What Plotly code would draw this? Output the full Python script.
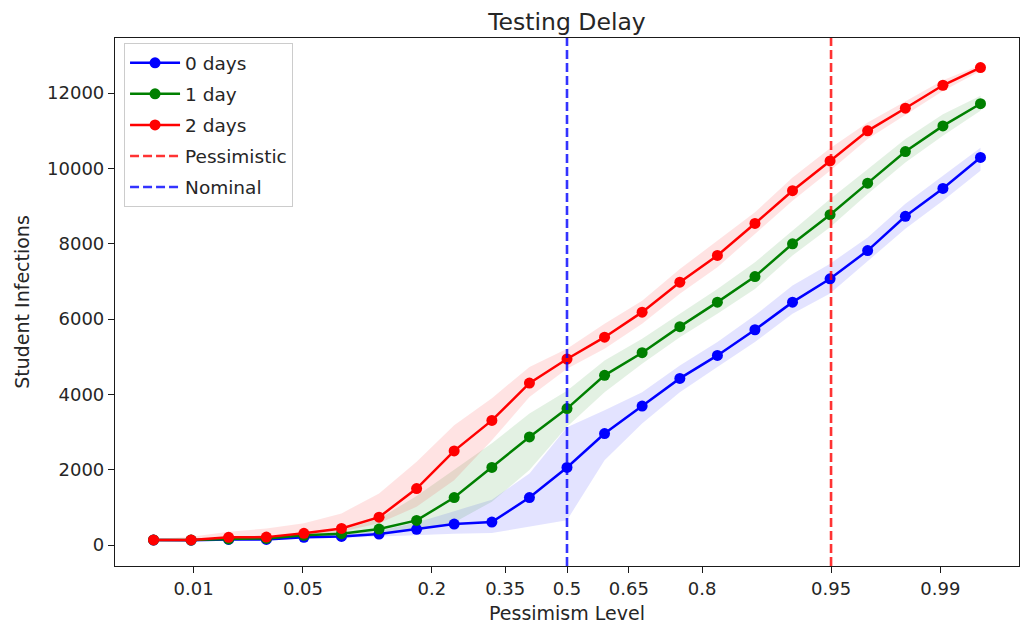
import plotly.graph_objects as go

# x positions: pessimism levels expressed on a normal-quantile (probit) scale
z_levels = [-2.576, -2.342, -2.108, -1.873, -1.639, -1.405, -1.171, -0.937, -0.703, -0.468,
            -0.234, 0.0, 0.234, 0.468, 0.703, 0.937, 1.171, 1.405, 1.639, 1.873, 2.108, 2.342, 2.576]

days0 = [133, 130, 150, 150, 204, 229, 292, 416, 557, 610, 1260, 2060, 2960, 3690, 4425,
         5035, 5717, 6450, 7070, 7820, 8730, 9470, 10292]
days0_lo = [110, 110, 125, 125, 170, 185, 220, 260, 300, 320, 485, 660, 2250, 3230, 4060,
            4730, 5390, 6140, 6680, 7550, 8400, 9140, 9940]
days0_hi = [155, 155, 175, 180, 240, 280, 380, 600, 900, 1200, 1900, 3130, 3580, 4060, 4770,
            5390, 6100, 6890, 7470, 8170, 9060, 9800, 10550]

days1 = [135, 133, 160, 175, 257, 300, 424, 654, 1260, 2060, 2870, 3623, 4506, 5107, 5800,
         6450, 7130, 8000, 8773, 9610, 10450, 11130, 11720]
days1_lo = [115, 115, 135, 150, 215, 250, 330, 420, 600, 1150, 1990, 3140, 4060, 4815, 5520,
            6140, 6800, 7690, 8440, 9320, 10160, 10870, 11530]
days1_hi = [160, 160, 200, 220, 320, 400, 700, 1300, 2000, 2700, 3490, 4100, 4900, 5480, 6140,
            6800, 7510, 8350, 9190, 9980, 10780, 11440, 11930]

days2 = [135, 135, 204, 210, 310, 440, 740, 1500, 2500, 3310, 4300, 4940, 5520, 6185, 6980,
         7690, 8540, 9410, 10200, 11000, 11600, 12210, 12680]
days2_lo = [115, 115, 170, 175, 230, 350, 575, 1015, 1720, 2780, 3930, 4680, 5210, 5875, 6670,
            7375, 8260, 9145, 9940, 10780, 11420, 12060, 12590]
days2_hi = [160, 220, 350, 440, 575, 840, 1370, 2210, 3180, 3900, 4730, 5210, 5875, 6490, 7330,
            8080, 8835, 9760, 10540, 11220, 11790, 12340, 12750]

series_names = ["0 days", "1 day", "2 days"]
series_colors = ["#0000ff", "#008000", "#ff0000"]
fill_colors = ["rgba(0,0,255,0.11)", "rgba(0,128,0,0.11)", "rgba(255,0,0,0.11)"]

tick_labels = ["0.01", "0.05", "0.2", "0.35", "0.5", "0.65", "0.8", "0.95", "0.99"]
tick_z = [-2.326, -1.645, -0.842, -0.385, 0.0, 0.385, 0.842, 1.645, 2.326]

nominal_z = 0.0        # pessimism 0.5
pessimistic_z = 1.645  # pessimism 0.95

y_ticks = [0, 2000, 4000, 6000, 8000, 10000, 12000]
y_tick_labels = ["0", "2000", "4000", "6000", "8000", "10000", "12000"]
y_range = [-557, 13465]
x_range = [-2.816, 2.816]

FONT = "DejaVu Sans"
TXT = "#262626"
AX = "#1a1a1a"

fig = go.Figure()

data = [(days0, days0_lo, days0_hi), (days1, days1_lo, days1_hi), (days2, days2_lo, days2_hi)]

for (mid, lo, hi), fc in zip(data, fill_colors):
    fig.add_trace(go.Scatter(
        x=z_levels + z_levels[::-1], y=hi + lo[::-1],
        fill="toself", fillcolor=fc, line=dict(width=0), mode="lines",
        hoverinfo="skip", showlegend=False))

for i, ((mid, lo, hi), name, col) in enumerate(zip(data, series_names, series_colors)):
    fig.add_trace(go.Scatter(
        x=z_levels, y=mid, name=name, mode="lines+markers",
        line=dict(color=col, width=2.5),
        marker=dict(color=col, size=11),
        legendgroup=name, legendrank=i + 1))

fig.add_shape(type="line", x0=pessimistic_z, x1=pessimistic_z, y0=0, y1=1,
              xref="x", yref="paper",
              line=dict(color="rgba(255,0,0,0.8)", width=2.6, dash="9px,4px"),
              showlegend=True, name="Pessimistic", legendrank=4, legendgroup="Pessimistic")
fig.add_shape(type="line", x0=nominal_z, x1=nominal_z, y0=0, y1=1,
              xref="x", yref="paper",
              line=dict(color="rgba(0,0,255,0.8)", width=2.6, dash="9px,4px"),
              showlegend=True, name="Nominal", legendrank=5, legendgroup="Nominal")

fig.update_layout(
    width=1021, height=627,
    margin=dict(l=115, r=2, t=38, b=61),
    paper_bgcolor="white", plot_bgcolor="white",
    font=dict(family=FONT, size=18, color=TXT),
    title=dict(text="Testing Delay", x=0.5, xref="paper", xanchor="center",
               y=1 - 22 / 627, yref="container", yanchor="middle",
               font=dict(family=FONT, size=23.5, color=TXT)),
    showlegend=True,
    legend=dict(x=0.01, y=0.99, xanchor="left", yanchor="top",
                bgcolor="rgba(255,255,255,0.8)", bordercolor="#cccccc", borderwidth=1,
                font=dict(family=FONT, size=18.5, color=TXT),
                tracegroupgap=4, itemwidth=50),
)

fig.update_xaxes(
    range=x_range, tickmode="array", tickvals=tick_z, ticktext=tick_labels,
    showgrid=False, zeroline=False, showline=True, mirror=True,
    linecolor=AX, linewidth=1.2, ticks="outside", ticklen=6, tickcolor=AX,
    tickfont=dict(family=FONT, size=18, color=TXT),
    title=dict(text="Pessimism Level", font=dict(family=FONT, size=19, color=TXT), standoff=8),
)
fig.update_yaxes(
    range=y_range, tickmode="array", tickvals=y_ticks, ticktext=y_tick_labels,
    showgrid=False, zeroline=False, showline=True, mirror=True,
    linecolor=AX, linewidth=1.2, ticks="outside", ticklen=6, tickcolor=AX,
    tickfont=dict(family=FONT, size=18, color=TXT),
    title=dict(text="Student Infections", font=dict(family=FONT, size=19, color=TXT), standoff=12),
)

fig.write_html("out.html")
